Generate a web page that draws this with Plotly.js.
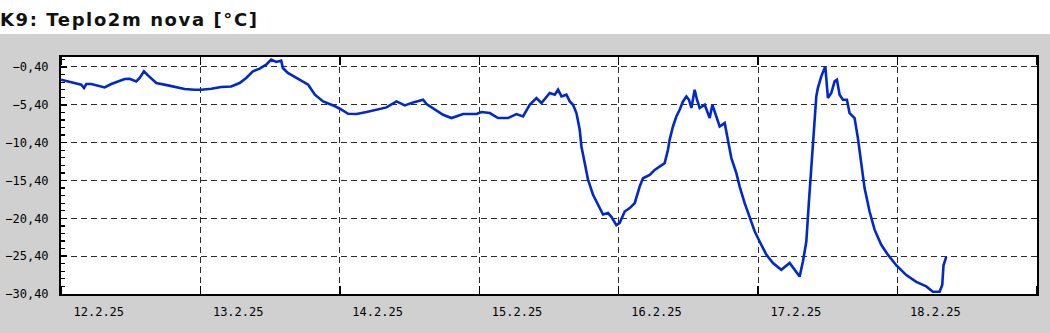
<!DOCTYPE html>
<html>
<head>
<meta charset="utf-8">
<script src="https://cdn.plot.ly/plotly-3.0.1.min.js"></script>
<style>
  html, body { margin: 0; padding: 0; }
  body { width: 1050px; height: 333px; background: linear-gradient(#ffffff 0px, #ffffff 34px, #d0d0d0 34px, #d0d0d0 333px); }
  #chart { width: 1050px; height: 333px; }
</style>
</head>
<body>
<div id="chart"></div>
<script>
// Hours since 12.2.2025 00:00
const hours = [
  0, 0.64, 1.50, 2.63, 3.49, 3.96, 4.35, 5.21, 6.37, 7.52,
  8.65, 9.81, 10.96, 11.82, 12.95, 13.54, 14.28, 14.97, 16.40, 18.41,
  19.84, 21.28, 23.00, 24.14, 25.86, 27.58, 29.30, 30.74, 31.88, 33.03,
  34.19, 35.32, 36.18, 37.04, 37.90, 38.19, 39.05, 40.48, 41.93, 42.55,
  43.70, 45.13, 46.85, 48.00, 49.43, 50.87, 52.60, 54.31, 56.03, 57.75,
  59.18, 60.61, 62.33, 62.92, 64.05, 65.77, 67.22, 69.21, 71.52, 72.38,
  73.81, 75.23, 76.95, 78.40, 79.53, 80.68, 81.84, 82.70, 84.13, 84.99,
  85.56, 86.15, 87.00, 87.57, 88.14, 88.72, 89.29, 89.58, 90.15, 90.72,
  91.58, 92.44, 93.30, 94.16, 94.74, 95.60, 96.17, 97.03, 97.89, 98.75,
  99.61, 100.18, 101.33, 102.19, 103.05, 103.91, 104.48, 104.77, 105.34, 105.92,
  106.49, 107.06, 107.65, 108.09, 108.51, 109.07, 109.47, 109.94, 110.80, 111.66,
  112.12, 112.81, 113.38, 114.24, 114.80, 115.39, 116.25, 116.82, 117.68, 118.54,
  119.40, 119.96, 120.26, 121.41, 122.55, 123.99, 125.42, 126.28, 127.14, 127.71,
  128.29, 128.74, 129.15, 129.55, 130.01, 130.28, 130.87, 131.56, 132.01, 132.59,
  133.16, 133.56, 134.02, 134.59, 135.28, 135.74, 136.60, 137.17, 137.75, 138.32,
  139.18, 140.04, 141.19, 142.33, 143.77, 145.50, 147.22, 148.94, 150.07, 151.23,
  151.69, 151.91, 152.38
];
// Temperature at 2 m [°C]
const temps = [
  -2.08, -2.21, -2.38, -2.52, -2.74, -3.18, -2.65, -2.65, -2.87, -3.10,
  -2.65, -2.30, -1.99, -1.95, -2.30, -1.86, -0.98, -1.51, -2.52, -2.83,
  -3.05, -3.31, -3.40, -3.40, -3.27, -3.05, -2.97, -2.52, -1.86, -0.98,
  -0.62, -0.10, 0.57, 0.26, 0.43, -0.53, -1.19, -1.86, -2.52, -2.74,
  -4.06, -4.95, -5.48, -5.92, -6.58, -6.62, -6.35, -6.05, -5.74, -4.95,
  -5.48, -5.08, -4.73, -5.30, -5.82, -6.71, -7.15, -6.62, -6.62, -6.35,
  -6.49, -7.15, -7.15, -6.62, -6.94, -5.39, -4.50, -5.16, -3.84, -4.06,
  -3.40, -4.29, -4.06, -4.95, -5.39, -6.49, -8.70, -10.9, -13.1, -15.3,
  -17.3, -18.6, -19.9, -19.7, -20.2, -21.3, -21.0, -19.5, -19.05, -18.4,
  -16.2, -15.1, -14.65, -14.0, -13.55, -13.1, -11.34, -10.0, -8.26, -6.94,
  -6.05, -4.95, -4.29, -4.73, -5.82, -3.40, -4.73, -5.82, -5.39, -7.15,
  -5.39, -7.15, -8.26, -7.81, -10.24, -12.44, -14.42, -16.2, -18.4, -20.4,
  -22.1, -23.0, -23.47, -25.2, -26.3, -27.2, -26.3, -27.2, -28.1, -26.1,
  -23.5, -18.2, -13.3, -8.47, -4.29, -3.18, -1.64, -0.32, -4.50, -3.84,
  -2.30, -2.08, -4.06, -4.73, -4.73, -6.49, -7.15, -9.79, -12.9, -16.4,
  -19.5, -21.9, -23.9, -25.2, -26.6, -27.9, -28.8, -29.4, -30.1, -30.1,
  -29.2, -26.6, -25.5
];
const dayStarts = ['2025-02-12','2025-02-13','2025-02-14','2025-02-15','2025-02-16','2025-02-17','2025-02-18'];
const dayLabels = ['12.2.25','13.2.25','14.2.25','15.2.25','16.2.25','17.2.25','18.2.25'];

const t0 = Date.UTC(2025, 1, 12);
function fmt(ms) { return new Date(ms).toISOString().slice(0, 19).replace('T', ' '); }
const xs = hours.map(h => fmt(t0 + h * 3600000));
const labelOffsetMs = 6.5 * 3600000;
const labelVals = dayStarts.map(d => fmt(Date.parse(d + 'T00:00:00Z') + labelOffsetMs));

const trace = {
  x: xs, y: temps, type: 'scatter', mode: 'lines',
  line: { color: '#0028cc', width: 2.6 },
  hoverinfo: 'skip'
};

const gridStyle = { gridcolor: '#2a2a2a', gridwidth: 1, griddash: '6px,4px' };
const tickFont = { family: 'DejaVu Sans Mono', size: 12, color: '#000000' };

const layout = {
  width: 1050, height: 333,
  margin: { l: 61, r: 13, t: 57, b: 39, pad: 0 },
  paper_bgcolor: 'rgba(0,0,0,0)',
  plot_bgcolor: '#ffffff',
  separators: ', ',
  showlegend: false,
  title: {
    text: '<span style="letter-spacing:1.6px">K9: Teplo2m nova [°C]</span>',
    x: 0, xanchor: 'left', xref: 'container',
    y: 1 - 20 / 333, yanchor: 'middle', yref: 'container',
    font: { family: 'DejaVu Sans', size: 18, weight: 'bold', color: '#111111' }
  },
  xaxis: {
    type: 'date',
    range: ['2025-02-12 00:00', '2025-02-19 00:00'],
    tickmode: 'array', tickvals: labelVals, ticktext: dayLabels,
    ticks: '', showgrid: false, zeroline: false,
    showline: true, linecolor: '#000000', linewidth: 2, mirror: 'ticks',
    tickfont: tickFont, ticklabelstandoff: 6,
    minor: Object.assign({
      tick0: '2025-02-12', dtick: 86400000,
      ticks: 'inside', ticklen: 8, tickwidth: 1.5, tickcolor: '#000000',
      showgrid: true
    }, gridStyle)
  },
  yaxis: Object.assign({
    range: [-30.4, 0.92],
    tickmode: 'linear', tick0: -0.4, dtick: 5, tickformat: '.2f',
    ticks: 'inside', ticklen: 6, tickwidth: 1.5, tickcolor: '#000000',
    showgrid: true, zeroline: false,
    showline: true, linecolor: '#000000', linewidth: 2, mirror: true,
    tickfont: tickFont, ticklabelstandoff: 8,
    minor: { tick0: -0.4, dtick: 1, ticks: 'inside', ticklen: 4, tickwidth: 1.2, tickcolor: '#000000', showgrid: false }
  }, gridStyle)
};

Plotly.newPlot('chart', [trace], layout, { staticPlot: true, displayModeBar: false });
</script>
</body>
</html>
